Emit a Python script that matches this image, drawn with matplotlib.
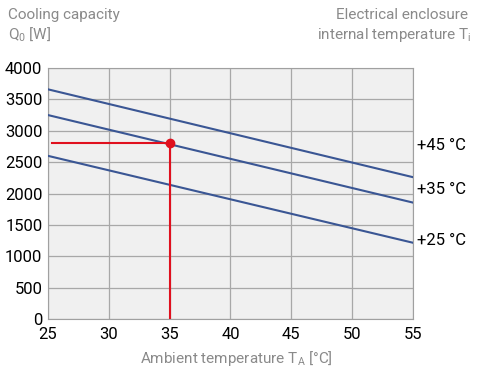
import matplotlib
matplotlib.use('Agg')
import matplotlib.pyplot as plt

plt.rcParams['font.family'] = ['Roboto', 'DejaVu Sans']
plt.rcParams['mathtext.fontset'] = 'custom'
plt.rcParams['mathtext.rm'] = 'Roboto'

# ambient temperature (x) and cooling capacity for each internal temperature
x_ends = [25, 55]
q_45 = [3660, 2260]
q_35 = [3250, 1855]
q_25 = [2600, 1215]
curve_labels = ['+45 °C', '+35 °C', '+25 °C']
label_y = [2760, 2060, 1250]

op_x = 35
op_q = 2800

x_ticks = [25, 30, 35, 40, 45, 50, 55]
y_ticks = [0, 500, 1000, 1500, 2000, 2500, 3000, 3500, 4000]

blue = '#3a5694'
red = '#e0101e'
gray_text = '#8a8a8a'

fig = plt.figure(figsize=(4.78, 3.81), dpi=100)
ax = fig.add_axes([48 / 478, 1 - 319 / 381, 365 / 478, 251 / 381])
ax.set_facecolor('#f0f0f0')

for q in (q_45, q_35, q_25):
    ax.plot(x_ends, q, color=blue, lw=1.5, zorder=3)

# operating point
ax.plot([25.3, op_x], [op_q, op_q], color=red, lw=1.5, zorder=4)
ax.plot([op_x, op_x], [0, op_q], color=red, lw=1.5, zorder=4)
ax.plot(op_x, op_q, 'o', color=red, ms=6, zorder=5)

ax.set_xlim(25, 55)
ax.set_ylim(0, 4000)
ax.set_xticks(x_ticks)
ax.set_yticks(y_ticks)
ax.grid(True, color='#a8a8a8', lw=0.9)
ax.set_axisbelow(True)
for s in ax.spines.values():
    s.set_color('#a0a0a0')
ax.tick_params(length=0, labelsize=12, pad=4)
ax.tick_params(axis='x', pad=6)

for lab, yv in zip(curve_labels, label_y):
    ax.text(55.3, yv, lab, fontsize=12, va='center', ha='left')

fs = 11
fig.text(8 / 478, 1 - 15 / 381, 'Cooling capacity', color=gray_text, fontsize=fs, va='center')
fig.text(8 / 478, 1 - 35 / 381, r'Q$_{\mathregular{0}}$ [W]', color=gray_text, fontsize=fs, va='center')
fig.text(468 / 478, 1 - 15 / 381, 'Electrical enclosure', color=gray_text, fontsize=fs, va='center', ha='right')
fig.text(472 / 478, 1 - 35 / 381, r'internal temperature T$_{\mathregular{i}}$', color=gray_text, fontsize=fs, va='center', ha='right')
fig.text(236 / 478, 1 - 358 / 381, r'Ambient temperature T$_{\mathregular{A}}$ [°C]', color=gray_text, fontsize=fs, va='center', ha='center')

fig.savefig('out.png', dpi=100)
